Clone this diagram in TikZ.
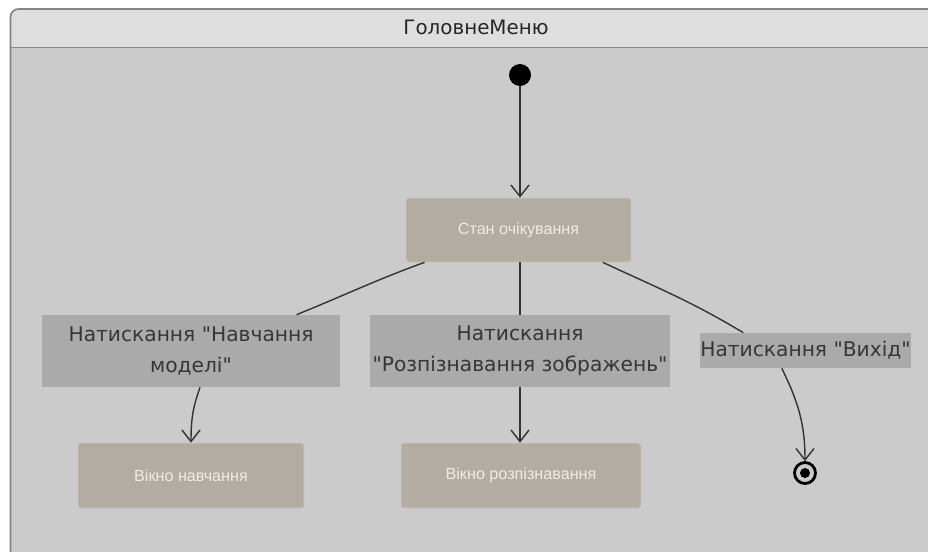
\documentclass[tikz,border=0pt]{standalone}
\usepackage{fontspec}
\setmainfont{DejaVu Sans}
\newfontfamily\statefont{Liberation Sans}
\usetikzlibrary{arrows.meta}
\definecolor{headgray}{HTML}{DEDEDE}
\definecolor{bodygray}{HTML}{CBCBCB}
\definecolor{framegray}{HTML}{858585}
\definecolor{statefill}{HTML}{B3ACA3}
\definecolor{stateline}{HTML}{CCC6BE}
\definecolor{statetext}{HTML}{EFEBE6}
\definecolor{eventfill}{HTML}{AAAAAA}
\definecolor{eventtext}{HTML}{363636}
\definecolor{linecol}{HTML}{333333}
\newcommand{\qmark}{\textquotedbl}

\begin{document}
\begin{tikzpicture} [scale = 1,
  statebox/.style = {draw = stateline, fill = statefill, rounded corners = 0.05cm, inner sep = 0pt,
    text = statetext, font = \statefont\fontsize{9.2}{11}\selectfont},
  eventbox/.style = {fill = eventfill, inner sep = 0pt, align = center,
    text = eventtext, font = \fontsize{11.5}{17.5}\selectfont},
  startdot/.style = {circle, fill = black, inner sep = 0pt, minimum size = 0.44cm},
  endring/.style = {circle, draw = black, line width = 1.6pt, fill = bodygray, inner sep = 0pt, minimum size = 0.42cm},
  flow/.style = {draw = linecol, line width = 0.8pt},
  tip/.style = {-{Straight Barb[length = 2.3mm, width = 3.6mm]}}]
\useasboundingbox (0.0, 0.0) rectangle (18.56, -11.02);
\fill[white] (0.0, 0.0) rectangle (18.56, -11.02);
\fill[headgray, rounded corners = 0.16cm] (0.21, -12.0) rectangle (19.3, -0.18);
\fill[bodygray] (0.21, -0.95) rectangle (19.3, -12.0);
\draw[framegray, line width = 1pt, rounded corners = 0.16cm] (0.21, -12.0) rectangle (19.3, -0.18);
\draw[framegray, line width = 1pt] (0.21, -0.95) -- (19.3, -0.95);
\node[font = \fontsize{11.3}{13}\selectfont, text = black!85] (title) at (9.52, -0.54) {ГоловнеМеню};
\node[startdot] (start) at (10.4, -1.5) {};
\node[statebox, minimum width = 4.5cm, minimum height = 1.28cm] (wait) at (10.37, -4.6) {Стан очікування};
\node[eventbox, minimum width = 5.96cm, minimum height = 1.44cm] (train) at (3.82, -7.02) {Натискання \qmark Навчання\\моделі\qmark};
\node[eventbox, minimum width = 6.0cm, minimum height = 1.44cm] (recog) at (10.4, -7.02) {Натискання\\\qmark Розпізнавання зображень\qmark};
\node[eventbox, minimum width = 4.22cm, minimum height = 0.7cm] (quit) at (16.11, -7.01) {Натискання \qmark Вихід\qmark};
\node[statebox, minimum width = 4.52cm, minimum height = 1.3cm] (trainwin) at (3.82, -9.51) {Вікно навчання};
\node[statebox, minimum width = 4.8cm, minimum height = 1.3cm] (recogwin) at (10.42, -9.51) {Вікно розпізнавання};
\node[endring] (final) at (16.1, -9.46) {};
\fill[black] (final.center) circle [radius = 0.1];
\draw[flow, tip] (start) -- (start |- wait.north);
\draw[flow] (wait.-161) to[out = 200, in = 22] (train.19);
\draw[flow, tip] (train.-76) to[out = -110, in = 90] (trainwin.north);
\draw[flow] (recog.north |- wait.south) -- (recog.north);
\draw[flow, tip] (recog.south) -- (recog.south |- recogwin.north);
\draw[flow] (wait.-21) to[out = -25, in = 149] (quit.164);
\draw[flow, tip] (quit.-143) to[out = -64, in = 90] (final.north);
\end{tikzpicture}
\end{document}
